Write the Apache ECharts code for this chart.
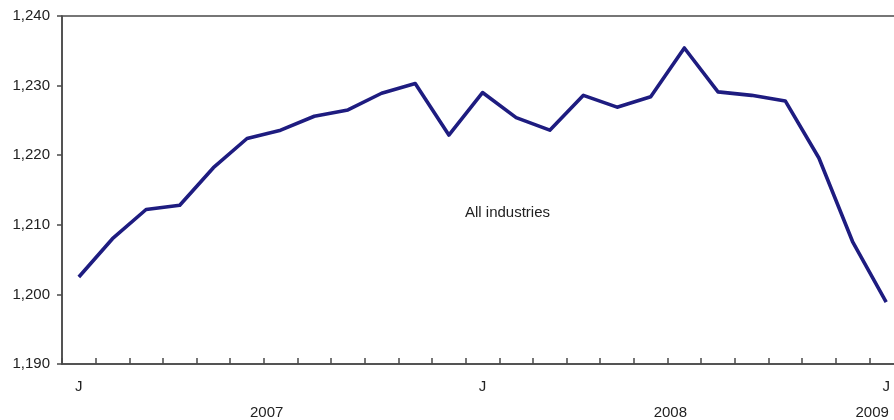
<!DOCTYPE html>
<html>
<head>
<meta charset="utf-8">
<script src="https://cdn.jsdelivr.net/npm/echarts@6/dist/echarts.min.js"></script>
<style>
html,body{margin:0;padding:0;background:#fff;overflow:hidden;}
#wrap{position:relative;width:894px;height:420px;overflow:hidden;}
#chart{position:absolute;left:0;top:0;width:903px;height:420px;}
</style>
</head>
<body>
<div id="wrap"><div id="chart"></div></div>
<script>
const months = ['2007-01','2007-02','2007-03','2007-04','2007-05','2007-06','2007-07','2007-08','2007-09','2007-10','2007-11','2007-12',
                '2008-01','2008-02','2008-03','2008-04','2008-05','2008-06','2008-07','2008-08','2008-09','2008-10','2008-11','2008-12',
                '2009-01'];
const monthLabels = ['J','','','','','','','','','','','',
                     'J','','','','','','','','','','','',
                     'J'];
const yearLabels = ['','','','','','','2007','','','','','',
                    '','','','','','','2008','','','','','',
                    '2009'];
const allIndustries = [1202.5,1208.0,1212.2,1212.8,1218.2,1222.4,1223.6,1225.6,1226.5,1228.9,1230.3,1222.9,
                       1229.0,1225.4,1223.6,1228.6,1226.9,1228.4,1235.4,1229.1,1228.6,1227.8,1219.6,1207.6,
                       1198.9];
const yTicks = {min:1190, max:1240, interval:10};
const seriesName = 'All industries';

const axisColor = '#4a4a4a';
const textColor = '#222';
const font = 'Liberation Sans, Arial, sans-serif';

const chart = echarts.init(document.getElementById('chart'), null, {renderer:'canvas'});
chart.setOption({
  animation:false,
  backgroundColor:'#fff',
  grid:{left:62, top:16, bottom:56, right:0, show:true, borderColor:axisColor, borderWidth:1.5, backgroundColor:'transparent'},
  xAxis:[{
    type:'category', data:months, boundaryGap:true, position:'bottom',
    axisLine:{show:true, lineStyle:{color:axisColor, width:1.5}},
    axisTick:{show:true, inside:true, length:6, interval:0, lineStyle:{color:axisColor, width:1.5}},
    axisLabel:{interval:0, margin:15, color:textColor, fontSize:15, fontFamily:font,
      formatter:(v,i)=>monthLabels[i]},
    splitLine:{show:false}
  },{
    type:'category', data:months, boundaryGap:true, position:'bottom', offset:0,
    axisLine:{show:false}, axisTick:{show:false},
    axisLabel:{interval:0, margin:41, color:textColor, fontSize:15, fontFamily:font,
      padding:[0,28,0,0], formatter:(v,i)=>yearLabels[i]},
    splitLine:{show:false}
  }],
  yAxis:{
    type:'value', min:yTicks.min, max:yTicks.max, interval:yTicks.interval,
    axisLine:{show:true, lineStyle:{color:axisColor, width:1.5}},
    axisTick:{show:true, length:5, lineStyle:{color:axisColor, width:1.5}},
    axisLabel:{margin:12, color:textColor, fontSize:15, fontFamily:font,
      formatter:v=>v.toLocaleString('en-US')},
    splitLine:{show:false}
  },
  graphic:[{
    type:'text', left:465, top:205,
    style:{text:seriesName, fill:textColor, font:'15px ' + font}
  }],
  series:[{
    name:seriesName, type:'line', data:allIndustries, xAxisIndex:0,
    symbol:'none', smooth:false,
    lineStyle:{color:'#1e1c80', width:3.6, join:'round'}
  }]
});
</script>
</body>
</html>
